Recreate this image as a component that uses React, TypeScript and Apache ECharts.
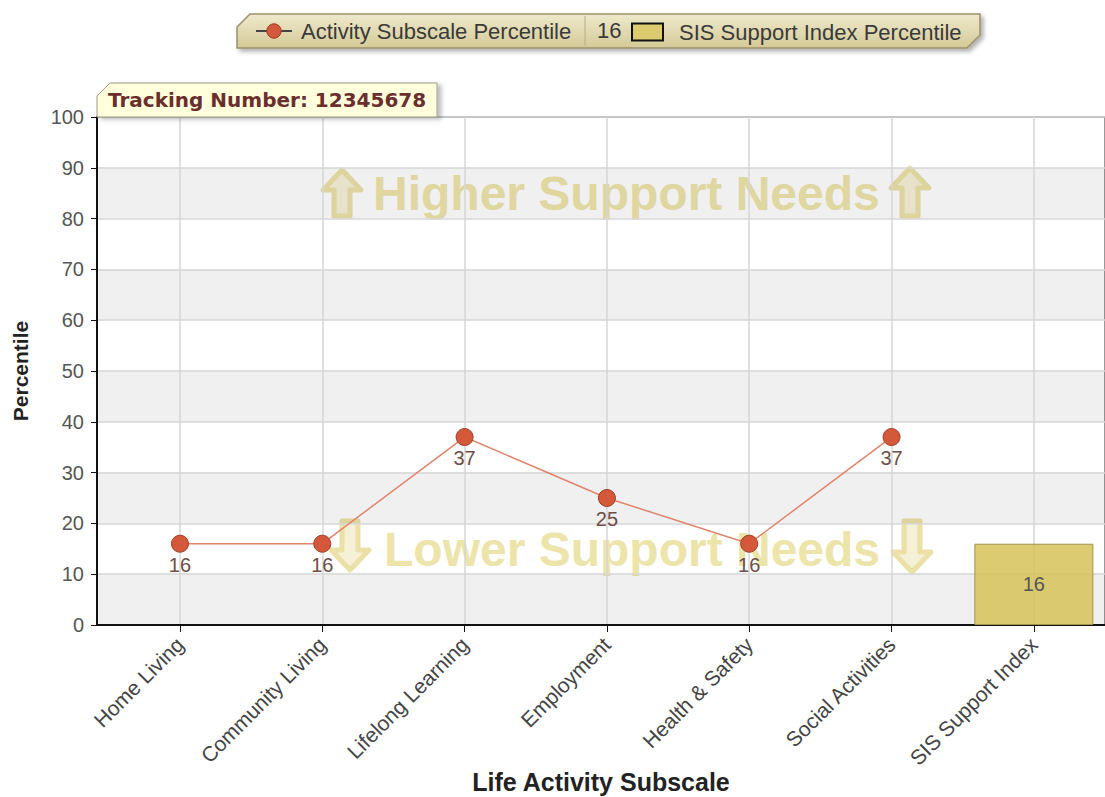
import React, { useEffect, useRef } from "react";
import * as echarts from "echarts";

const categories = [
  "Home Living",
  "Community Living",
  "Lifelong Learning",
  "Employment",
  "Health & Safety",
  "Social Activities",
  "SIS Support Index",
];
const activityValues = [16, 16, 37, 25, 16, 37];
const supportIndexValues = [16];
const supportIndexCategory = 6;
const legendExtraLabel = "16";
const trackingLabel = "Tracking Number: 12345678";
const yMin = 0;
const yMax = 100;
const yInterval = 10;

const FONT = "'Liberation Sans', Arial, sans-serif";

function upArrow(cx: number, top: number, bottom: number) {
  const hw = 19, hh = 20, sw = 8;
  return [
    [cx, top], [cx + hw, top + hh], [cx + sw, top + hh], [cx + sw, bottom],
    [cx - sw, bottom], [cx - sw, top + hh], [cx - hw, top + hh],
  ];
}
function downArrow(cx: number, top: number, bottom: number) {
  const hw = 19, hh = 20, sw = 8;
  return [
    [cx, bottom], [cx + hw, bottom - hh], [cx + sw, bottom - hh], [cx + sw, top],
    [cx - sw, top], [cx - sw, bottom - hh], [cx - hw, bottom - hh],
  ];
}

const arrowStyle = { fill: "#f6f1d6", stroke: "#ebe1a6", lineWidth: 5, lineJoin: "round" };
const wmText = { fill: "#ede4aa", font: `bold 48px ${FONT}` };

export default function App() {
  const ref = useRef<HTMLDivElement>(null);
  useEffect(() => {
    if (!ref.current) return;
    const chart = echarts.init(ref.current, null, { renderer: "svg" });
    const idx = categories.map((_, i) => i);
    const option: any = {
      animation: false,
      backgroundColor: "#ffffff",
      grid: {
        left: 97, top: 117, right: 0, bottom: 172,
        containLabel: false,
        outerBoundsMode: "none",
        show: true, borderColor: "#333", borderWidth: 1, backgroundColor: "transparent",
      },
      legend: [
        {
          left: 255, top: 20, padding: 0,
          itemWidth: 36, itemHeight: 18,
          textStyle: { fontSize: 22, color: "#3a3a3a", fontFamily: FONT, padding: [0, 0, 0, 4] },
          data: [
            { name: "Activity Subscale Percentile", lineStyle: { color: "#444", width: 2 },
              itemStyle: { color: "#d4583a", borderColor: "#9c3f28", borderWidth: 1 } },
          ],
        },
        {
          left: 631, top: 21, padding: 0,
          itemWidth: 31, itemHeight: 17, icon: "rect",
          textStyle: { fontSize: 22, color: "#3a3a3a", fontFamily: FONT, padding: [0, 0, 0, 11] },
          data: [
            { name: "SIS Support Index Percentile",
              itemStyle: { color: "#dccb6e", borderColor: "#111", borderWidth: 2 } },
          ],
        },
      ],
      xAxis: {
        type: "value",
        min: -0.583,
        max: 6.5,
        splitNumber: 7,
        name: "Life Activity Subscale",
        nameLocation: "middle",
        nameGap: 144,
        nameMoveOverlap: false,
        nameTextStyle: { fontSize: 25, fontWeight: "bold", color: "#222", fontFamily: FONT },
        axisLine: { show: true, onZero: false, lineStyle: { color: "#111", width: 2 } },
        axisTick: { show: true, length: 7, lineStyle: { color: "#111" }, customValues: idx },
        axisLabel: {
          customValues: idx,
          rotate: 45,
          margin: 16,
          fontSize: 21,
          color: "#444",
          fontFamily: FONT,
          formatter: (v: number) => categories[Math.round(v)] ?? "",
        },
        splitLine: { show: true, lineStyle: { color: "#d6d6d6", width: 1.5 } },
      },
      yAxis: {
        type: "value",
        min: yMin,
        max: yMax,
        interval: yInterval,
        name: "Percentile",
        nameLocation: "middle",
        nameGap: 66,
        nameMoveOverlap: false,
        nameTextStyle: { fontSize: 21, fontWeight: "bold", color: "#222", fontFamily: FONT },
        axisLine: { show: true, onZero: false, lineStyle: { color: "#111", width: 2 } },
        axisTick: { show: true, length: 6, lineStyle: { color: "#111" } },
        axisLabel: { margin: 13, fontSize: 20, color: "#555", fontFamily: FONT },
        splitLine: { show: true, lineStyle: { color: "#d6d6d6", width: 1.5 } },
        splitArea: { show: true, areaStyle: { color: ["rgba(0,0,0,0.06)", "rgba(0,0,0,0)"] } },
      },
      graphic: [
        // watermark
        { type: "polygon", z: -10, shape: { points: upArrow(342, 170, 216) }, style: arrowStyle },
        { type: "polygon", z: -10, shape: { points: upArrow(910, 168, 216) }, style: arrowStyle },
        { type: "text", z: -10, x: 373, y: 193, style: { ...wmText, text: "Higher Support Needs", textVerticalAlign: "middle" } },
        { type: "polygon", z: -10, shape: { points: downArrow(350, 521, 570) }, style: arrowStyle },
        { type: "polygon", z: -10, shape: { points: downArrow(912, 521, 572) }, style: arrowStyle },
        { type: "text", z: -10, x: 384, y: 549, style: { ...wmText, text: "Lower Support Needs", textVerticalAlign: "middle" } },
        // legend background
        {
          type: "polygon", z: -5,
          shape: { points: [[237, 27], [250, 14], [980, 14], [980, 35], [967, 48], [237, 48]] },
          style: {
            fill: new echarts.graphic.LinearGradient(0, 0, 0, 1, [
              { offset: 0, color: "#eee9cc" },
              { offset: 1, color: "#d4ca97" },
            ]),
            stroke: "#9a9068", lineWidth: 1.5,
            shadowBlur: 4, shadowOffsetX: 3, shadowOffsetY: 3, shadowColor: "rgba(0,0,0,0.3)",
          },
        },
        { type: "line", z: -4, shape: { x1: 585, y1: 16, x2: 585, y2: 46 }, style: { stroke: "#b8ae86", lineWidth: 1 } },
        {
          type: "text", z: 5, x: 597, y: 30,
          style: { text: legendExtraLabel, font: `22px ${FONT}`, fill: "#3a3a3a", textVerticalAlign: "middle" },
        },
        // tracking box
        {
          type: "polygon", z: 10,
          shape: { points: [[97, 117], [97, 96], [110, 83], [437, 83], [437, 117]] },
          style: {
            fill: "#ffffdc", stroke: "#9a9a8a", lineWidth: 1,
            shadowBlur: 4, shadowOffsetX: 4, shadowOffsetY: 2, shadowColor: "rgba(0,0,0,0.25)",
          },
        },
        {
          type: "text", z: 11, x: 108, y: 100,
          style: {
            text: trackingLabel, font: `bold 20px 'DejaVu Sans', Verdana, sans-serif`,
            fill: "#6b2e2e", textVerticalAlign: "middle",
          },
        },
      ],
      series: [
        {
          name: "Activity Subscale Percentile",
          type: "line",
          data: activityValues.map((v, i) => [i, v]),
          symbol: "circle",
          symbolSize: 17,
          itemStyle: { color: "#d4583a", borderColor: "#9c3f28", borderWidth: 1 },
          lineStyle: { color: "#e0846c", width: 1.5 },
          label: { show: true, position: "bottom", distance: 2, fontSize: 20, color: "#6e4e46", fontFamily: FONT },
          z: 3,
        },
        {
          name: "SIS Support Index Percentile",
          type: "bar",
          data: supportIndexValues.map((v) => [supportIndexCategory, v]),
          barWidth: 119,
          itemStyle: { color: "rgba(214,194,88,0.85)", borderColor: "#9e9450", borderWidth: 1 },
          label: { show: true, position: "inside", fontSize: 20, color: "#555", fontFamily: FONT },
        },
      ],
    };
    chart.setOption(option);
    return () => chart.dispose();
  }, []);
  return (
    <div
      ref={ref}
      style={{ position: "absolute", left: 0, top: 0, width: 1105, height: 797 }}
    />
  );
}
